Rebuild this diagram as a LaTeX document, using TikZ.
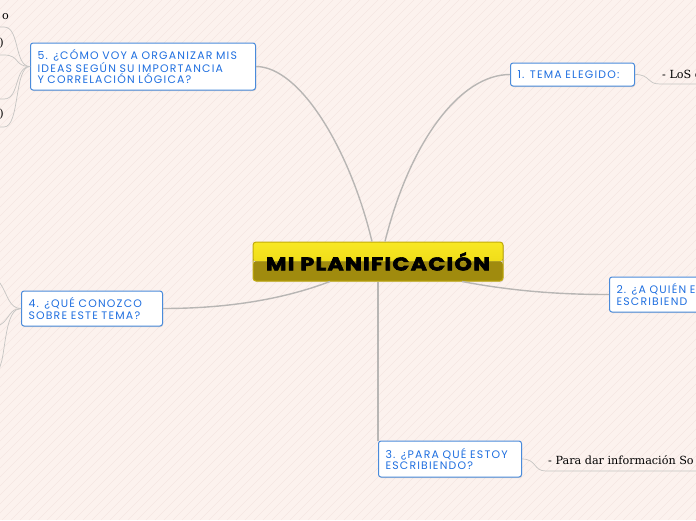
\documentclass[tikz,border=0pt]{standalone}
\usepackage{fontspec}
\setmainfont{Poppins}
\newfontfamily\hand{DejaVu Serif}
\usetikzlibrary{shadows,calc}
\definecolor{bg}{HTML}{FCF2EE}
\definecolor{stripe}{HTML}{F5E7E2}
\definecolor{boxblue}{HTML}{4A8BDB}
\definecolor{textblue}{HTML}{1F6FE0}
\definecolor{linegray}{HTML}{B8B6B4}
\definecolor{yelA}{HTML}{F8E823}
\definecolor{yelB}{HTML}{E8D210}
\definecolor{oliveB}{HTML}{A08B0E}
\definecolor{yelBorder}{HTML}{C2AC0A}
\begin{document}
\begin{tikzpicture}[x=1pt,y=-1pt,
  bluebox/.style={draw=boxblue, line width=1pt, fill=white, rounded corners=2.5pt,
    text=textblue, font=\fontsize{10.9}{11.6}\selectfont\addfontfeature{LetterSpace=11}, align=left,
    inner xsep=7pt, inner ysep=0pt, anchor=west,
    drop shadow={shadow xshift=0.6pt, shadow yshift=-1pt, opacity=0.25}},
  conn/.style={draw=linegray, line width=1.4pt},
  subconn/.style={draw=linegray!80, line width=0.7pt},
  childtxt/.style={font=\hand\fontsize{11.2}{13}\selectfont, text=black, inner sep=0pt}]
\useasboundingbox (0,0) rectangle (696,520);
\clip (0,0) rectangle (696,520);
\fill[bg] (0,0) rectangle (696,520);
\foreach \i in {-520,-511,...,700} \draw[stripe, line width=0.4pt] (\i,520) -- ++(520,-520);

% central node
\node[minimum width=250pt, minimum height=39pt, inner sep=0pt, rounded corners=3pt,
  draw=yelBorder, line width=1pt,
  path picture={
    \fill[top color=yelA, bottom color=yelB] (path picture bounding box.north west) rectangle (path picture bounding box.east);
    \fill[oliveB] (path picture bounding box.west) rectangle (path picture bounding box.south east);},
  drop shadow={shadow xshift=0.6pt, shadow yshift=-1pt, opacity=0.25},
  font=\fontsize{18.5}{20}\selectfont\bfseries\addfontfeature{FakeBold=3,LetterSpace=6}]
  (c) at (378,261.5) {\scalebox{1.2}[1]{MI PLANIFICACIÓN}};

% main topic nodes
\node[bluebox, minimum height=47pt, text width=211pt] (n5) at (30,66.5)
  {5. ¿CÓMO VOY A ORGANIZAR MIS\\IDEAS SEGÚN SU IMPORTANCIA\\Y CORRELACIÓN LÓGICA?};
\node[bluebox, minimum height=23pt, text width=110pt] (n1) at (510,74.5) {1. TEMA ELEGIDO:};
\node[bluebox, minimum height=35pt, text width=150pt] (n2) at (609,294.5) {2. ¿A QUIÉN E\\ESCRIBIEND};
\node[bluebox, minimum height=36pt, text width=129pt] (n3) at (378,459) {3. ¿PARA QUÉ ESTOY\\ESCRIBIENDO?};
\node[bluebox, minimum height=35pt, text width=127pt] (n4) at (21,308.5) {4. ¿QUÉ CONOZCO\\SOBRE ESTE TEMA?};

% connectors from the centre
\draw[conn] (n5.east) .. controls +(44,0) and +(-22,-92) .. ([xshift=-6pt]c.north);
\draw[conn] ([xshift=7pt]c.north) .. controls +(25,-100) and +(-50,0) .. (n1.west);
\draw[conn] ([xshift=-48pt]c.south) .. controls +(-50,19) and +(60,0) .. (n4.east);
\draw[conn] ([xshift=84pt]c.south) .. controls +(58,11) and +(-40,0) .. (n2.west);
\draw[conn] (c.south) -- (c.south |- n3.north);

% children of node 1 and node 3
\coordinate (u1) at (660,84);
\coordinate (e1) at (705,84);
\draw[subconn] (n1.east) .. controls +(16,0) and +(-14,0) .. (u1) -- (e1);
\node[childtxt, anchor=base west] (t1) at (662,78) {- LoS c};
\coordinate (u3) at (546,471);
\coordinate (e3) at (705,471);
\draw[subconn] (n3.east) .. controls +(15,0) and +(-13,0) .. (u3) -- (e3);
\node[childtxt, anchor=base west] (t3) at (548,464) {- Para dar información So};

% children of node 5 (cut off at the left edge)
\coordinate (a1) at (4,27);
\coordinate (a2) at (4,55);
\coordinate (a3) at (4,99);
\coordinate (a4) at (4,127);
\foreach \p in {a1,a2,a3,a4}
  \draw[subconn] (n5.west) .. controls +(-16,0) and +(16,0) .. (\p) -- ++(-10,0);
\node[childtxt, anchor=base east] (o1) at (9,19) {o};
\node[childtxt, anchor=base east] (o2) at (4,46) {)};
\node[childtxt, anchor=base east] (o4) at (4,117) {)};

% children of node 4 (cut off at the left edge)
\coordinate (b1) at (0,283);
\coordinate (b2) at (0,325);
\coordinate (b3) at (2,360);
\draw[subconn] (n4.west) .. controls +(-12,0) and +(8,12) .. (b1) -- ++(-8,-6);
\draw[subconn] (n4.west) .. controls +(-12,0) and +(10,-6) .. (b2) -- ++(-8,4);
\draw[subconn] (n4.west) .. controls +(-14,0) and +(4,-20) .. (b3) -- ++(-3,10);
\end{tikzpicture}
\end{document}
